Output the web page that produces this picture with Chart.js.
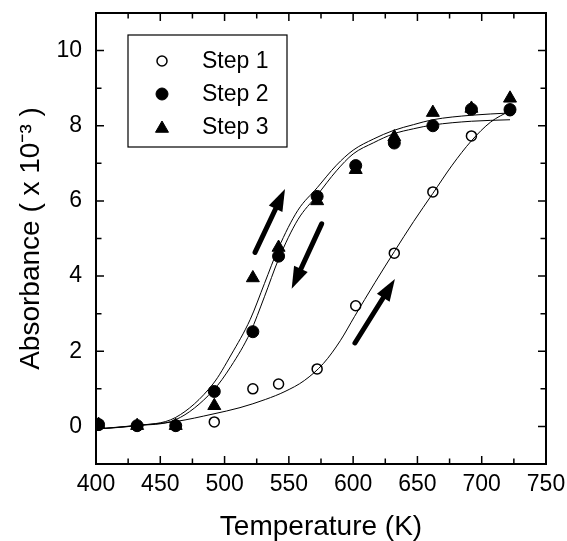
<!DOCTYPE html>
<html>
<head>
<meta charset="utf-8">
<script src="https://cdn.jsdelivr.net/npm/chart.js@4/dist/chart.umd.min.js"></script>
<style>
  html, body { margin: 0; padding: 0; background: #fff; }
  #wrap { width: 567px; height: 541px; }
</style>
</head>
<body>
<div id="wrap"><canvas id="c" width="567" height="541"></canvas></div>
<script>
// ---- data ----
const temps = [402, 432, 462, 492, 522, 542, 572, 602, 632, 662, 692, 722];
const step1 = [0.03, 0.02, 0.02, 0.12, 1.00, 1.13, 1.53, 3.21, 4.61, 6.24, 7.73, 8.40];
const step2 = [0.05, 0.02, 0.02, 0.93, 2.52, 4.53, 6.12, 6.94, 7.54, 8.00, 8.44, 8.43];
const step3 = [0.05, 0.02, 0.02, 0.55, 3.95, 4.76, 6.00, 6.83, 7.70, 8.35, 8.46, 8.73];

// fitted curves
const fit1T = [400, 430, 462, 491, 512, 532, 547, 562, 577, 590, 601, 617, 632, 647, 662, 677, 692, 707, 722];
const fit1Y = [-0.07, 0.02, 0.13, 0.33, 0.50, 0.72, 0.93, 1.22, 1.68, 2.28, 2.92, 3.83, 4.65, 5.45, 6.20, 6.95, 7.60, 8.10, 8.40];
const fit23T = [400, 431, 462, 491, 505, 520, 531, 542, 557, 572, 587, 600, 616, 631, 647, 662, 692, 722];
const fit2Y = [-0.07, 0.02, 0.18, 0.95, 1.60, 2.50, 3.45, 4.45, 5.50, 6.15, 6.80, 7.25, 7.55, 7.78, 7.92, 8.02, 8.12, 8.16];
const fit3Y = [-0.07, 0.02, 0.24, 1.13, 1.90, 2.85, 3.80, 4.75, 5.75, 6.35, 6.95, 7.35, 7.65, 7.87, 8.03, 8.16, 8.28, 8.34];

// axes
const xTickValues = [400, 450, 500, 550, 600, 650, 700, 750];
const xMinorTicks = [425, 475, 525, 575, 625, 675, 725];
const yTickValues = [0, 2, 4, 6, 8, 10];
const yMinorTicks = [1, 3, 5, 7, 9];
const seriesNames = ['Step 1', 'Step 2', 'Step 3'];

// arrows (data units: tail -> tip)
const arrows = [
  [[523.7, 4.63], [547.0, 6.32]],
  [[575.5, 5.39], [552.2, 3.66]],
  [[601.4, 2.22], [632.5, 3.92]]
];

const FONT = '"Liberation Sans", Arial, Helvetica, sans-serif';
const pts = (xs, ys) => xs.map((x, i) => ({x: x, y: ys[i]}));

const markerStyles = [
  {pointStyle: 'circle', radius: 5, borderWidth: 1.5, backgroundColor: 'rgba(0,0,0,0)', borderColor: '#000'},
  {pointStyle: 'circle', radius: 6, borderWidth: 1, backgroundColor: '#000', borderColor: '#000'},
  {pointStyle: 'triangle', radius: 7.5, borderWidth: 1, backgroundColor: '#000', borderColor: '#000'}
];
const seriesData = [step1, step2, step3];

const datasets = [];
seriesData.forEach((ys, i) => {
  const m = markerStyles[i];
  datasets.push({
    label: seriesNames[i],
    data: pts(temps, ys),
    showLine: false,
    pointStyle: m.pointStyle,
    pointRadius: m.radius,
    pointBorderWidth: m.borderWidth,
    pointBackgroundColor: m.backgroundColor,
    pointBorderColor: m.borderColor,
    order: 3 - i
  });
});
[[fit1T, fit1Y], [fit23T, fit2Y], [fit23T, fit3Y]].forEach((f, i) => {
  datasets.push({
    label: 'fit' + (i + 1),
    data: pts(f[0], f[1]),
    showLine: true,
    borderColor: '#000',
    borderWidth: 1,
    pointRadius: 0,
    cubicInterpolationMode: 'monotone',
    fill: false,
    order: 10
  });
});

const framePlugin = {
  id: 'frame',
  afterDatasetsDraw(chart) {
    const {ctx, chartArea: a, scales: {x, y}} = chart;
    ctx.save();
    ctx.strokeStyle = '#000';
    // ticks
    ctx.lineWidth = 1.5;
    const major = 8, minor = 5.5;
    const vt = (v, len) => {
      const px = x.getPixelForValue(v);
      ctx.beginPath();
      ctx.moveTo(px, a.bottom); ctx.lineTo(px, a.bottom - len);
      ctx.moveTo(px, a.top); ctx.lineTo(px, a.top + len);
      ctx.stroke();
    };
    const ht = (v, len) => {
      const py = y.getPixelForValue(v);
      ctx.beginPath();
      ctx.moveTo(a.left, py); ctx.lineTo(a.left + len, py);
      ctx.moveTo(a.right, py); ctx.lineTo(a.right - len, py);
      ctx.stroke();
    };
    xTickValues.forEach(v => vt(v, major));
    xMinorTicks.forEach(v => vt(v, minor));
    yTickValues.forEach(v => ht(v, major));
    yMinorTicks.forEach(v => ht(v, minor));
    // border
    ctx.lineWidth = 2;
    ctx.strokeRect(a.left, a.top, a.right - a.left, a.bottom - a.top);

    // arrows
    ctx.fillStyle = '#000';
    arrows.forEach(([t, h]) => {
      const x0 = x.getPixelForValue(t[0]), y0 = y.getPixelForValue(t[1]);
      const x1 = x.getPixelForValue(h[0]), y1 = y.getPixelForValue(h[1]);
      const ang = Math.atan2(y1 - y0, x1 - x0);
      const headLen = 22, headHalf = 7.5;
      const bx = x1 - Math.cos(ang) * headLen, by = y1 - Math.sin(ang) * headLen;
      ctx.lineWidth = 5;
      ctx.lineCap = 'round';
      ctx.beginPath();
      ctx.moveTo(x0, y0);
      ctx.lineTo(bx + Math.cos(ang) * 2, by + Math.sin(ang) * 2);
      ctx.stroke();
      ctx.beginPath();
      ctx.moveTo(x1, y1);
      ctx.lineTo(bx - Math.sin(ang) * headHalf, by + Math.cos(ang) * headHalf);
      ctx.lineTo(bx + Math.sin(ang) * headHalf, by - Math.cos(ang) * headHalf);
      ctx.closePath();
      ctx.fill();
    });

    // legend
    const lx = a.left + 32, ly = a.top + 22, lw = 159, lh = 112;
    ctx.fillStyle = '#fff';
    ctx.fillRect(lx, ly, lw, lh);
    ctx.lineWidth = 1.2;
    ctx.lineCap = 'butt';
    ctx.strokeStyle = '#000';
    ctx.strokeRect(lx, ly, lw, lh);
    const rows = [26, 59, 92];
    ctx.font = '23px ' + FONT;
    ctx.textBaseline = 'middle';
    ctx.textAlign = 'left';
    seriesNames.forEach((name, i) => {
      const m = markerStyles[i];
      ctx.save();
      ctx.fillStyle = m.backgroundColor;
      ctx.strokeStyle = m.borderColor;
      ctx.lineWidth = m.borderWidth;
      Chart.helpers.drawPoint(ctx, {pointStyle: m.pointStyle, radius: m.radius, borderWidth: m.borderWidth, rotation: 0},
        lx + 34, ly + rows[i] + (m.pointStyle === 'triangle' ? 1.5 : 0));
      ctx.restore();
      ctx.fillStyle = '#000';
      ctx.fillText(name, lx + 74, ly + rows[i] + 1);
    });
    ctx.restore();
  }
};

const noPad = s => { s.paddingTop = 0; s.paddingBottom = 0; s.paddingLeft = 0; s.paddingRight = 0; };

new Chart(document.getElementById('c'), {
  type: 'scatter',
  data: {datasets: datasets},
  options: {
    responsive: false,
    animation: false,
    layout: {padding: {top: 13, right: 21, left: 0, bottom: 0}},
    plugins: {legend: {display: false}, tooltip: {enabled: false}},
    scales: {
      x: {
        type: 'linear', min: 400, max: 750,
        afterFit: s => { s.height = 77; noPad(s); },
        afterBuildTicks: s => { s.ticks = xTickValues.map(v => ({value: v})); },
        grid: {display: false, drawTicks: false},
        border: {display: false},
        ticks: {color: '#000', padding: 7, maxRotation: 0, font: {family: FONT, size: 23}},
        title: {display: true, text: 'Temperature (K)', color: '#000',
                font: {family: FONT, size: 28, lineHeight: 1}, padding: {top: 0, bottom: 0}}
      },
      y: {
        type: 'linear', min: -1, max: 11,
        afterFit: s => { s.width = 96; noPad(s); },
        afterBuildTicks: s => { s.ticks = yTickValues.map(v => ({value: v})); },
        grid: {display: false, drawTicks: false},
        border: {display: false},
        ticks: {color: '#000', padding: 14, font: {family: FONT, size: 23}},
        title: {display: true, text: 'Absorbance ( x 10\u207B\u00B3 )', color: '#000',
                font: {family: FONT, size: 28, lineHeight: 1}, padding: {top: 17, bottom: 0}}
      }
    }
  },
  plugins: [framePlugin]
});
</script>
</body>
</html>
